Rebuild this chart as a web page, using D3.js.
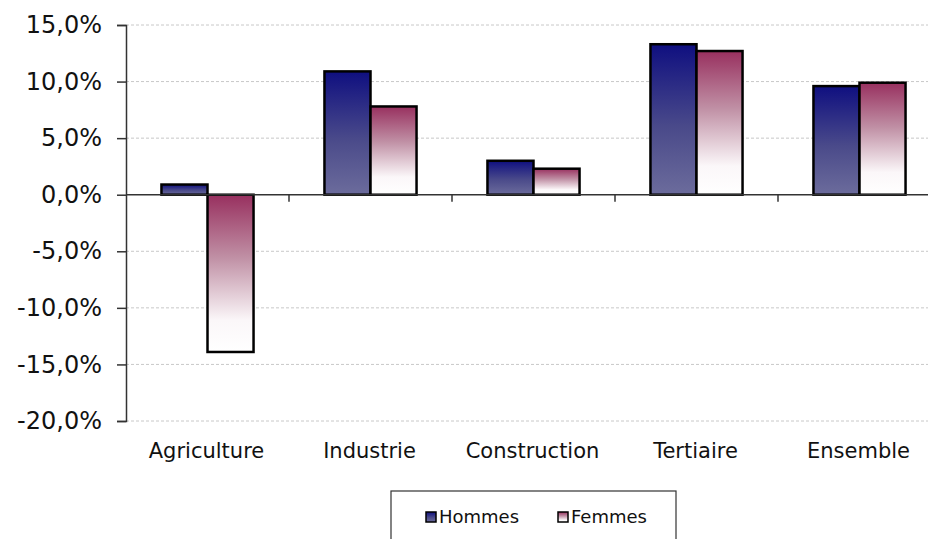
<!DOCTYPE html>
<html>
<head>
    <script src="https://d3js.org/d3.v7.min.js"></script>
    <style>
        body { margin: 0; background: #fff; }
        text { font-family: "DejaVu Sans", Verdana, sans-serif; fill: #111; }
    </style>
</head>
<body>
    <div id="chart"></div>
    <script>
        // data
        const categories = ["Agriculture", "Industrie", "Construction", "Tertiaire", "Ensemble"]
        const series = ["Hommes", "Femmes"]
        const hommes = [0.9, 10.9, 3.0, 13.3, 9.6]
        const femmes = [-13.9, 7.8, 2.3, 12.7, 9.9]
        const yTicks = [15, 10, 5, 0, -5, -10, -15, -20]

        const W = 928, H = 539
        const plot = { left: 126, right: 941, top: 25, bottom: 421 }

        const svg = d3.select("#chart").append("svg")
            .attr("width", W).attr("height", H)

        // gradients for the two series
        const defs = svg.append("defs")
        const grads = {
            Hommes: [["0%", "#0f0f80"], ["55%", "#4a4a8a"], ["100%", "#6c6c9c"]],
            Femmes: [["0%", "#98305f"], ["40%", "#c090a5"], ["80%", "#fbf7f9"], ["100%", "#ffffff"]]
        }
        series.forEach(function (s) {
            const g = defs.append("linearGradient").attr("id", "grad-" + s)
                .attr("x1", 0).attr("y1", 0).attr("x2", 0).attr("y2", 1)
            grads[s].forEach(function (st) {
                g.append("stop").attr("offset", st[0]).attr("stop-color", st[1])
            })
        })

        const x = d3.scaleBand().domain(categories).range([plot.left, plot.right]).padding(0)
        const xSub = d3.scaleBand().domain(series).range([0, x.bandwidth()])
            .paddingInner(0).paddingOuter(0.77)
        const y = d3.scaleLinear().domain([-20, 15]).range([plot.bottom, plot.top])

        // dashed grid lines
        svg.append("g").selectAll("line")
            .data(yTicks.filter(function (d) { return d !== 0 }))
            .enter().append("line")
            .attr("x1", plot.left).attr("x2", W)
            .attr("y1", function (d) { return y(d) }).attr("y2", function (d) { return y(d) })
            .attr("stroke", "#c8c8c8").attr("stroke-width", 1).attr("stroke-dasharray", "3,2")

        // y axis
        const yAxis = svg.append("g").attr("transform", "translate(" + plot.left + ",0)")
            .call(d3.axisLeft(y).tickValues(yTicks).tickSize(9).tickPadding(15)
                .tickFormat(function (d) { return d.toFixed(1).replace(".", ",") + "%" }))
        yAxis.select(".domain").attr("stroke", "#333").attr("stroke-width", 1.5)
        yAxis.selectAll(".tick line").attr("stroke", "#333").attr("stroke-width", 1.5)
        yAxis.selectAll("text").style("font-size", "24px").attr("fill", "#111")

        // bars
        const rows = categories.map(function (c, i) {
            return { cat: c, values: [{ key: "Hommes", value: hommes[i] }, { key: "Femmes", value: femmes[i] }] }
        })
        svg.append("g").selectAll("g")
            .data(rows).enter().append("g")
            .attr("transform", function (d) { return "translate(" + x(d.cat) + ",0)" })
            .selectAll("rect")
            .data(function (d) { return d.values })
            .enter().append("rect")
            .attr("x", function (d) { return xSub(d.key) })
            .attr("y", function (d) { return y(Math.max(0, d.value)) })
            .attr("width", xSub.bandwidth())
            .attr("height", function (d) { return Math.abs(y(d.value) - y(0)) })
            .attr("fill", function (d) { return "url(#grad-" + d.key + ")" })
            .attr("stroke", "#000").attr("stroke-width", 2.5)

        // x axis on zero line
        const xAxis = svg.append("g").attr("transform", "translate(0," + y(0) + ")")
        xAxis.append("line").attr("x1", plot.left).attr("x2", W)
            .attr("stroke", "#333").attr("stroke-width", 1.5)
        xAxis.selectAll("line.tk")
            .data(categories.slice(1)).enter().append("line").attr("class", "tk")
            .attr("x1", function (d) { return x(d) }).attr("x2", function (d) { return x(d) })
            .attr("y1", 0).attr("y2", 7).attr("stroke", "#333").attr("stroke-width", 1.5)

        // category labels
        svg.append("g").selectAll("text")
            .data(categories).enter().append("text")
            .attr("x", function (d) { return x(d) + x.bandwidth() / 2 - 1 })
            .attr("y", 458)
            .attr("text-anchor", "middle")
            .style("font-size", "21px")
            .text(function (d) { return d })

        // legend
        const legend = svg.append("g")
        legend.append("rect").attr("x", 391).attr("y", 491).attr("width", 285).attr("height", 60)
            .attr("fill", "#fff").attr("stroke", "#333").attr("stroke-width", 1.2)
        const lx = [426, 558]
        series.forEach(function (s, i) {
            legend.append("rect").attr("x", lx[i]).attr("y", 512).attr("width", 10).attr("height", 10)
                .attr("fill", "url(#grad-" + s + ")").attr("stroke", "#000").attr("stroke-width", 1.5)
            legend.append("text").attr("x", lx[i] + 13).attr("y", 523)
                .style("font-size", "18px").text(s)
        })
    </script>
</body>
</html>
